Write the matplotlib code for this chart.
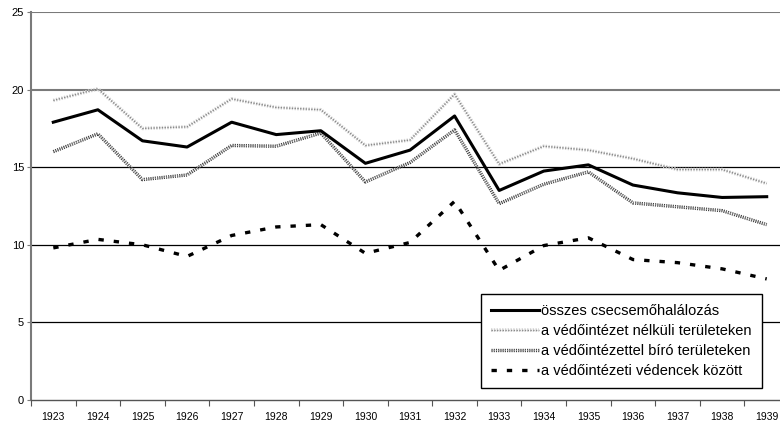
import matplotlib
matplotlib.use("Agg")
import matplotlib.pyplot as plt
import matplotlib.patheffects as pe
import numpy as np

plt.rcParams['font.family'] = ['Liberation Sans', 'DejaVu Sans']

# === Data ===
years = [str(y) for y in range(1923, 1940)]
osszes = [17.9, 18.7, 16.7, 16.3, 17.9, 17.1, 17.35, 15.25, 16.1,
          18.3, 13.5, 14.75, 15.15, 13.85, 13.35, 13.05, 13.1]
nelkuli = [19.3, 20.05, 17.5, 17.6, 19.4, 18.85, 18.7, 16.4, 16.75,
           19.7, 15.2, 16.35, 16.1, 15.55, 14.85, 14.85, 13.95]
biro = [16.0, 17.15, 14.2, 14.5, 16.4, 16.35, 17.2, 14.05, 15.3,
        17.4, 12.65, 13.9, 14.7, 12.7, 12.45, 12.2, 11.3]
vedencek = [9.8, 10.35, 10.0, 9.25, 10.6, 11.15, 11.3, 9.45, 10.15,
            12.8, 8.35, 9.95, 10.45, 9.05, 8.85, 8.45, 7.8]

labels = ["összes csecsemőhalálozás",
          "a védőintézet nélküli területeken",
          "a védőintézettel bíró területeken",
          "a védőintézeti védencek között"]

# === Figure ===
fig = plt.figure(figsize=(7.8, 4.24), dpi=100)
ax = fig.add_axes([31 / 780, 24 / 424, 758 / 780, 388 / 424])

x = np.arange(len(years))

# gridlines
for yv, col, lw in [(5, 'black', 0.9), (10, 'black', 0.9), (15, 'black', 0.9),
                    (20, '#7a7a7a', 1.5), (25, '#7a7a7a', 1.5)]:
    ax.axhline(yv, color=col, linewidth=lw, zorder=1)

ax.plot(x, nelkuli, color='#8a8a8a', linewidth=1.0, linestyle=(0, (1, 1)),
        path_effects=[pe.Stroke(linewidth=2.6, foreground='#d6d6d6'), pe.Normal()],
        label=labels[1], zorder=3)
ax.plot(x, biro, color='#9a9a9a', linewidth=0.8, linestyle=(0, (1, 1)),
        path_effects=[pe.Stroke(linewidth=2.4, foreground='#3a3a3a'), pe.Normal()],
        label=labels[2], zorder=3)
ax.plot(x, osszes, color='black', linewidth=2.2, label=labels[0], zorder=4)
ax.plot(x, vedencek, color='black', linewidth=2.4, linestyle=(0, (1.6, 3.0)),
        label=labels[3], zorder=4)

# axes
ax.set_xlim(-0.5, len(years) - 0.5)
ax.set_ylim(0, 25)
ax.set_yticks([0, 5, 10, 15, 20, 25])
ax.tick_params(axis='y', labelsize=8, length=3, width=0.8, color='#7a7a7a', pad=2)

ax.set_xticks(np.arange(len(years) + 1) - 0.5)
ax.set_xticklabels([])
ax.set_xticks(x, minor=True)
ax.set_xticklabels(years, minor=True, fontsize=7.5)
ax.tick_params(axis='x', which='major', length=4, width=0.8, color='#555555')
ax.tick_params(axis='x', which='minor', length=0, pad=9)

for s in ['top', 'right']:
    ax.spines[s].set_visible(False)
ax.spines['left'].set_color('#7a7a7a')
ax.spines['left'].set_linewidth(1.5)
ax.spines['bottom'].set_color('#555555')
ax.spines['bottom'].set_linewidth(1.0)

# legend
handles, lbls = ax.get_legend_handles_labels()
order = [lbls.index(l) for l in labels]
leg = ax.legend([handles[i] for i in order], [lbls[i] for i in order],
                loc='lower right', bbox_to_anchor=(762 / 780, 36 / 424),
                bbox_transform=fig.transFigure,
                fontsize=10.5, frameon=True, fancybox=False, framealpha=1,
                edgecolor='black', handlelength=3.3, handletextpad=0.15,
                borderpad=0.7, labelspacing=0.4, borderaxespad=0)
leg.get_frame().set_linewidth(1.0)

fig.savefig("out.png", dpi=100)
